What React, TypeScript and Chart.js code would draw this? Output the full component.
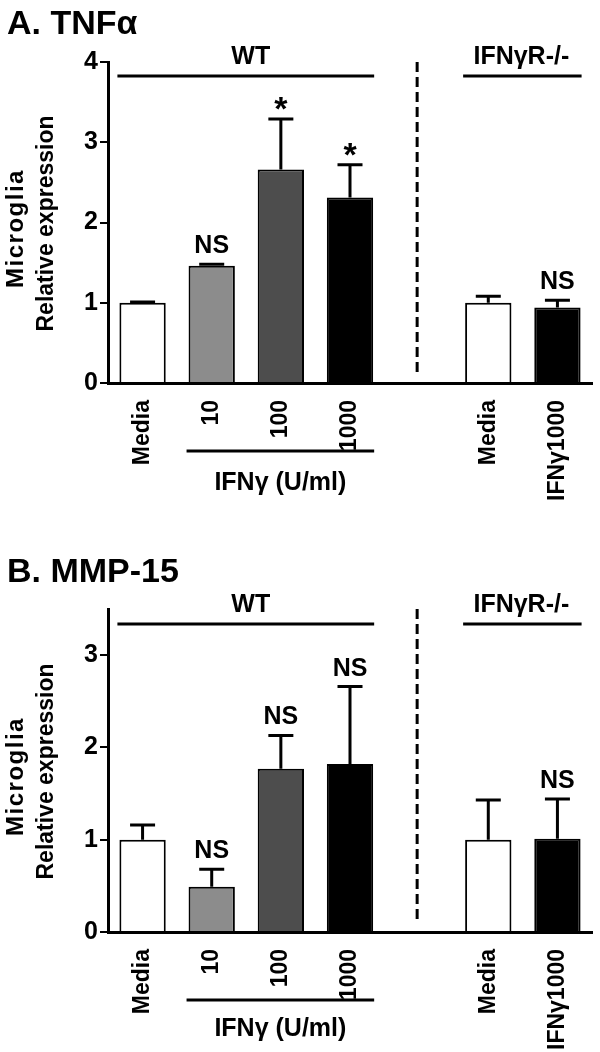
import React, { useEffect, useRef } from "react";
import { Chart, registerables } from "chart.js";

Chart.register(...registerables);

// ---------- data ----------
const categories = ["Media", "10", "100", "1000", "", "Media", "IFNγ1000"];
const barColors = ["#ffffff", "#8c8c8c", "#4d4d4d", "#000000", "#ffffff", "#ffffff", "#000000"];

const tnfValues = [1.0, 1.46, 2.66, 2.31, null, 1.0, 0.94];
const tnfErrors = [0.01, 0.02, 0.63, 0.41, null, 0.08, 0.09];
const tnfMarks = ["", "NS", "*", "*", "", "", "NS"];
const tnfTicks = [0, 1, 2, 3, 4];

const mmpValues = [1.0, 0.49, 1.77, 1.82, null, 1.0, 1.01];
const mmpErrors = [0.16, 0.19, 0.36, 0.84, null, 0.43, 0.43];
const mmpMarks = ["", "NS", "NS", "NS", "", "", "NS"];
const mmpTicks = [0, 1, 2, 3];

const yTitleTop = "Microglia";
const yTitleBottom = "Relative expression";
const wtGroup = [0, 3];
const koGroup = [5, 6];
const doseGroup = [1, 3];
const separatorIndex = 4;
const wtLabel = "WT";
const koLabel = "IFNγR-/-";
const doseLabel = "IFNγ (U/ml)";

const FONT = '"Liberation Sans", Arial, Helvetica, sans-serif';

type PanelCfg = {
  title: string;
  values: (number | null)[];
  errors: (number | null)[];
  marks: string[];
  ticks: number[];
  yMax: number;
  height: number;
  top: number;
  bottom: number;
  titleBaseline: number;
  groupTextBaseline: number;
  groupLineY: number;
  dashTop: number;
  dashBottom: number;
  doseLineY: number;
  doseTextBaseline: number;
};

const panelA: PanelCfg = {
  title: "A. TNFα",
  values: tnfValues,
  errors: tnfErrors,
  marks: tnfMarks,
  ticks: tnfTicks,
  yMax: 4,
  height: 530,
  top: 62,
  bottom: 383,
  titleBaseline: 34,
  groupTextBaseline: 64,
  groupLineY: 76,
  dashTop: 62,
  dashBottom: 376,
  doseLineY: 451,
  doseTextBaseline: 490,
};

const panelB: PanelCfg = {
  title: "B. MMP-15",
  values: mmpValues,
  errors: mmpErrors,
  marks: mmpMarks,
  ticks: mmpTicks,
  yMax: 3.5,
  height: 522,
  top: 79,
  bottom: 402,
  titleBaseline: 52,
  groupTextBaseline: 82,
  groupLineY: 94,
  dashTop: 79,
  dashBottom: 394,
  doseLineY: 470,
  doseTextBaseline: 506,
};

const overlayPlugin = {
  id: "overlay",
  afterDatasetsDraw(chart: any, _args: any, opts: any) {
    const cfg: PanelCfg = opts.cfg;
    const ctx = chart.ctx;
    const meta = chart.getDatasetMeta(0);
    const y = chart.scales.y;
    ctx.save();
    ctx.strokeStyle = "#000";
    ctx.fillStyle = "#000";
    ctx.lineCap = "butt";
    cfg.values.forEach((v, i) => {
      if (v == null) return;
      const bar = meta.data[i];
      const x = bar.x;
      const y0 = y.getPixelForValue(v);
      const y1 = y.getPixelForValue(v + (cfg.errors[i] || 0));
      ctx.lineWidth = 3;
      ctx.beginPath();
      ctx.moveTo(x, y0);
      ctx.lineTo(x, y1 - 1.5);
      ctx.moveTo(x - 12.5, y1);
      ctx.lineTo(x + 12.5, y1);
      ctx.stroke();
      const m = cfg.marks[i];
      if (m) {
        ctx.textAlign = "center";
        ctx.textBaseline = "alphabetic";
        if (m === "*") {
          ctx.font = `bold 34px ${FONT}`;
          ctx.fillText(m, x, y1 + 1);
        } else {
          ctx.font = `bold 25px ${FONT}`;
          ctx.fillText(m, x, y1 - 11);
        }
      }
    });
    ctx.restore();
  },
  afterDraw(chart: any, _args: any, opts: any) {
    const cfg: PanelCfg = opts.cfg;
    const ctx = chart.ctx;
    const meta = chart.getDatasetMeta(0);
    const xs = chart.scales.x;
    const area = chart.chartArea;
    ctx.save();
    ctx.fillStyle = "#000";
    ctx.strokeStyle = "#000";
    // panel title
    ctx.font = `bold 34px ${FONT}`;
    ctx.textAlign = "left";
    ctx.textBaseline = "alphabetic";
    ctx.fillText(cfg.title, 7, cfg.titleBaseline);

    // y-axis title (two lines, rotated)
    const cy = (area.top + area.bottom) / 2;
    ctx.save();
    ctx.translate(16, cy + 6);
    ctx.rotate(-Math.PI / 2);
    ctx.textAlign = "center";
    ctx.textBaseline = "middle";
    ctx.font = `bold 24px ${FONT}`;
    (ctx as any).letterSpacing = "1.5px";
    ctx.fillText(yTitleTop, 0, 0);
    ctx.restore();
    ctx.save();
    ctx.translate(47, cy + 1);
    ctx.rotate(-Math.PI / 2);
    ctx.textAlign = "center";
    ctx.textBaseline = "middle";
    ctx.font = `bold 23px ${FONT}`;
    ctx.fillText(yTitleBottom, 0, 0);
    ctx.restore();

    const edge = (i: number, side: number) => {
      const b = meta.data[i];
      return b.x + (side * b.width) / 2;
    };
    const groupLine = (g: number[], label: string, lineY: number, textY: number, dx: number) => {
      const x0 = edge(g[0], -1) - 2;
      const x1 = edge(g[1], 1) + 1;
      ctx.lineWidth = 3;
      ctx.beginPath();
      ctx.moveTo(x0, lineY);
      ctx.lineTo(x1, lineY);
      ctx.stroke();
      ctx.font = `bold 25px ${FONT}`;
      ctx.textAlign = "center";
      ctx.fillText(label, (x0 + x1) / 2 + dx, textY);
    };
    groupLine(wtGroup, wtLabel, cfg.groupLineY, cfg.groupTextBaseline, 5);
    groupLine(koGroup, koLabel, cfg.groupLineY, cfg.groupTextBaseline, -1);
    groupLine(doseGroup, doseLabel, cfg.doseLineY, cfg.doseTextBaseline, 0);

    // dashed separator
    const sx = xs.getPixelForValue(separatorIndex) - 2;
    ctx.lineWidth = 3;
    ctx.setLineDash([10, 5]);
    ctx.beginPath();
    ctx.moveTo(sx, cfg.dashTop);
    ctx.lineTo(sx, cfg.dashBottom);
    ctx.stroke();
    ctx.setLineDash([]);
    ctx.restore();
  },
};

function Panel({ cfg }: { cfg: PanelCfg }) {
  const ref = useRef<HTMLCanvasElement>(null);
  useEffect(() => {
    if (!ref.current) return;
    const chart = new Chart(ref.current, {
      type: "bar",
      data: {
        labels: categories,
        datasets: [
          {
            data: cfg.values as any,
            backgroundColor: barColors,
            borderColor: "#000",
            borderWidth: 2,
            categoryPercentage: 1,
            barPercentage: 0.67,
          },
        ],
      },
      options: {
        responsive: false,
        animation: false,
        devicePixelRatio: 1,
        layout: { padding: { top: cfg.top, right: 8, bottom: 0, left: 0 } },
        plugins: {
          legend: { display: false },
          tooltip: { enabled: false },
          overlay: { cfg },
        } as any,
        scales: {
          x: {
            grid: { display: false },
            border: { display: true, color: "#000", width: 3 },
            ticks: {
              autoSkip: false,
              minRotation: 90,
              maxRotation: 90,
              padding: 9,
              color: "#000",
              font: { family: FONT, size: 23, weight: "bold" },
            },
            afterFit: (s: any) => {
              s.height = cfg.height - cfg.bottom;
            },
          },
          y: {
            min: 0,
            max: cfg.yMax,
            grid: {
              display: true,
              drawOnChartArea: false,
              drawTicks: true,
              tickLength: 8,
              color: "#000",
              lineWidth: 2,
            },
            border: { display: true, color: "#000", width: 3 },
            ticks: {
              padding: 2,
              color: "#000",
              font: { family: FONT, size: 25, weight: "bold" },
            },
            title: { display: false },
            afterBuildTicks: (s: any) => {
              s.ticks = cfg.ticks.map((v) => ({ value: v }));
            },
            afterFit: (s: any) => {
              s.width = 108;
            },
          },
        },
      },
      plugins: [overlayPlugin],
    });
    return () => chart.destroy();
  }, [cfg]);
  return (
    <canvas
      ref={ref}
      width={600}
      height={cfg.height}
      style={{ display: "block", width: 600, height: cfg.height }}
    />
  );
}

export default function App() {
  return (
    <div
      style={{
        position: "absolute",
        left: 0,
        top: 0,
        width: 600,
        height: 1052,
        background: "#fff",
      }}
    >
      <Panel cfg={panelA} />
      <Panel cfg={panelB} />
    </div>
  );
}
